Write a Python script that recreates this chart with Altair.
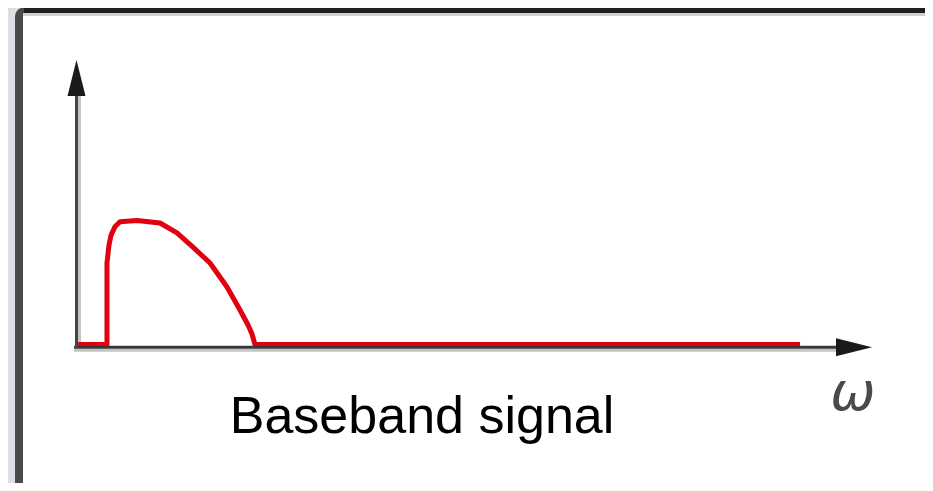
import altair as alt
import pandas as pd

# ---- data (omega in arbitrary units, amplitude normalised to peak 1) ----
omega = [0.02, 0.381, 0.381, 0.381, 0.406, 0.431, 0.481, 0.544, 0.756, 1.044, 1.256,
         1.456, 1.669, 1.881, 2.044, 2.144, 2.194, 2.231, 9.044]
amplitude = [0.0, 0.0, 0.36, 0.657, 0.80, 0.88, 0.95, 0.99, 1.0, 0.98, 0.90,
             0.785, 0.657, 0.464, 0.278, 0.157, 0.085, 0.0, 0.0]
caption = ["Baseband signal"]
axis_symbol = ["ω"]

W, H = 917, 475
X_DOM = [-0.85625, 10.60625]
Y_DOM = [-1.11694, 2.71371]
xs = alt.Scale(domain=X_DOM, nice=False, zero=False)
ys = alt.Scale(domain=Y_DOM, nice=False, zero=False)

one = pd.DataFrame({"k": [0]})


def box(x, x2, y, y2, color, radius=0):
    return alt.Chart(one).mark_rect(color=color, cornerRadius=radius, opacity=1).encode(
        x=alt.value(x), x2=alt.value(x2), y=alt.value(y), y2=alt.value(y2))


# frame
frame_outer = box(7, 960, -1, 520, "#4a4a4a", 10)
frame_top = box(16, 960, -1, 5, "#1f1f1f")
frame_inner = box(15, 917, 5, 479, "#ffffff")
frame_top_shadow = box(15, 917, 5, 8, "#d0d0d0")

# axes
xaxis_df = pd.DataFrame({"x": [-0.03], "x2": [9.52], "y": [-0.022]})
yaxis_df = pd.DataFrame({"x": [0.0], "y": [-0.03], "y2": [2.02]})

x_shadow = alt.Chart(xaxis_df).mark_rule(color="#c4c4c4", strokeWidth=3, yOffset=3).encode(
    x=alt.X("x:Q", scale=xs, axis=None), x2="x2:Q", y=alt.Y("y:Q", scale=ys, axis=None))
x_line = alt.Chart(xaxis_df).mark_rule(color="#383838", strokeWidth=3).encode(
    x=alt.X("x:Q", scale=xs, axis=None), x2="x2:Q", y=alt.Y("y:Q", scale=ys, axis=None))
y_shadow = alt.Chart(yaxis_df).mark_rule(color="#c4c4c4", strokeWidth=3, xOffset=3).encode(
    x=alt.X("x:Q", scale=xs, axis=None), y=alt.Y("y:Q", scale=ys, axis=None), y2="y2:Q")
y_line = alt.Chart(yaxis_df).mark_rule(color="#444444", strokeWidth=3).encode(
    x=alt.X("x:Q", scale=xs, axis=None), y=alt.Y("y:Q", scale=ys, axis=None), y2="y2:Q")

x_arrow = alt.Chart(pd.DataFrame({"x": [9.719], "y": [-0.022]})).mark_point(
    shape="M-1,-0.5L1,0L-1,0.5Z", filled=True, size=1296, color="#1a1a1a", opacity=1, strokeWidth=0
).encode(x=alt.X("x:Q", scale=xs, axis=None), y=alt.Y("y:Q", scale=ys, axis=None))
y_arrow = alt.Chart(pd.DataFrame({"x": [0.0], "y": [2.149]})).mark_point(
    shape="M-0.5,1L0,-1L0.5,1Z", filled=True, size=1296, color="#1a1a1a", opacity=1, strokeWidth=0
).encode(x=alt.X("x:Q", scale=xs, axis=None), y=alt.Y("y:Q", scale=ys, axis=None))

# signal
sig_df = pd.DataFrame({"omega": omega, "amp": amplitude, "i": list(range(len(omega)))})
signal = alt.Chart(sig_df).mark_line(color="#e10010", strokeWidth=5, strokeJoin="round",
                                     strokeCap="butt").encode(
    x=alt.X("omega:Q", scale=xs, axis=None),
    y=alt.Y("amp:Q", scale=ys, axis=None),
    order="i:Q")

# texts
cap_df = pd.DataFrame({"t": caption, "x": [4.319], "y": [-0.714]})
caption_txt = alt.Chart(cap_df).mark_text(font="Liberation Sans", fontSize=52, color="#000000",
                                          baseline="alphabetic", align="center").encode(
    x=alt.X("x:Q", scale=xs, axis=None), y=alt.Y("y:Q", scale=ys, axis=None), text="t:N")

sym_df = pd.DataFrame({"t": axis_symbol, "x": [9.706], "y": [-0.528]})
symbol_txt = alt.Chart(sym_df).mark_text(font="DejaVu Sans", fontSize=54, fontStyle="italic",
                                         fontWeight="normal", color="#4a4a4a",
                                         baseline="alphabetic", align="center").encode(
    x=alt.X("x:Q", scale=xs, axis=None), y=alt.Y("y:Q", scale=ys, axis=None), text="t:N")

chart = alt.layer(
    frame_outer, frame_top, frame_inner, frame_top_shadow,
    x_shadow, y_shadow, signal, x_line, y_line, x_arrow, y_arrow,
    caption_txt, symbol_txt
).properties(
    width=W, height=H,
    autosize=alt.AutoSizeParams(type="none"),
    padding=0,
    background="#e1dde5",
).configure_view(stroke=None)

chart.save("out.html", embed_options={"renderer": "svg", "actions": False})
